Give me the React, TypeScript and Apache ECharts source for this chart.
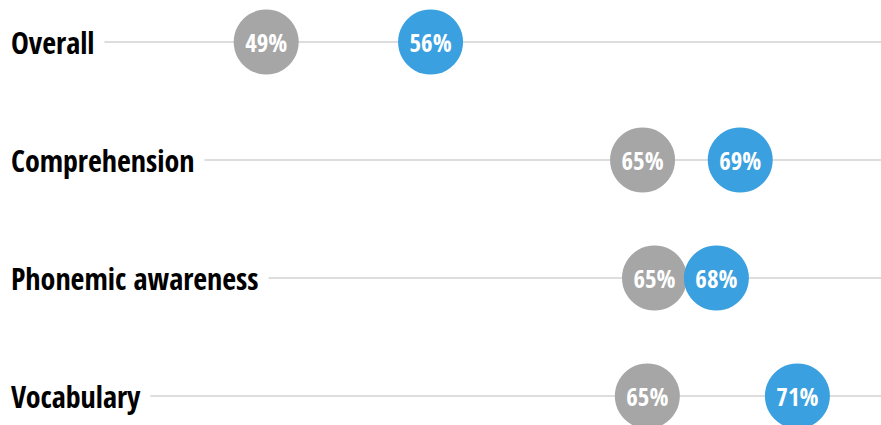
import React, { useEffect, useRef } from "react";
import * as echarts from "echarts";

const categories = ["Overall", "Comprehension", "Phonemic awareness", "Vocabulary"];
const grayValues = [49.0, 64.8, 65.3, 65.0];
const blueValues = [55.9, 68.9, 67.9, 71.3];

const FONT = '"Open Sans Condensed", "Open Sans", sans-serif';

export default function App() {
  const ref = useRef<HTMLDivElement>(null);
  useEffect(() => {
    if (!ref.current) return;
    const chart = echarts.init(ref.current, null, { renderer: "svg" });
    const mkData = (vals: number[]) => vals.map((v, i) => [v, categories[i]]);
    const pointLabel = {
      show: true,
      position: "inside",
      color: "#fff",
      fontFamily: FONT,
      fontWeight: "bold",
      fontSize: 25,
      formatter: (p: any) => Math.round(p.value[0]) + "%",
    };
    chart.setOption({
      animation: false,
      grid: { left: 0, right: 0, top: 42, bottom: 29, containLabel: false },
      xAxis: {
        type: "value",
        min: 37.95,
        max: 74.81,
        show: false,
      },
      yAxis: {
        type: "category",
        data: categories,
        inverse: true,
        boundaryGap: false,
        z: 10,
        axisLine: { show: false },
        axisTick: { show: false },
        splitLine: { show: false },
        axisLabel: {
          inside: true,
          margin: 0,
          align: "left",
          verticalAlign: "middle",
          color: "#000",
          fontFamily: FONT,
          fontWeight: "bold",
          fontSize: 30,
          backgroundColor: "#fff",
          padding: [2, 10, 2, 8],
        },
      },
      series: [
        {
          type: "scatter",
          data: [],
          z: 0,
          markLine: {
            silent: true,
            z: 1,
            symbol: "none",
            label: { show: false },
            lineStyle: { color: "#dddddd", width: 2, type: "solid" },
            data: categories.map((c) => ({ yAxis: c })),
          },
        },
        {
          type: "scatter",
          data: mkData(grayValues),
          symbolSize: 65,
          itemStyle: { color: "#a6a6a6", opacity: 1 },
          label: pointLabel,
          z: 2,
        },
        {
          type: "scatter",
          data: mkData(blueValues),
          symbolSize: 65,
          itemStyle: { color: "#3aa0e0", opacity: 1 },
          label: pointLabel,
          z: 3,
        },
      ],
    });
    return () => chart.dispose();
  }, []);
  return (
    <div
      ref={ref}
      style={{ position: "absolute", left: 0, top: 0, width: 881, height: 425 }}
    />
  );
}
